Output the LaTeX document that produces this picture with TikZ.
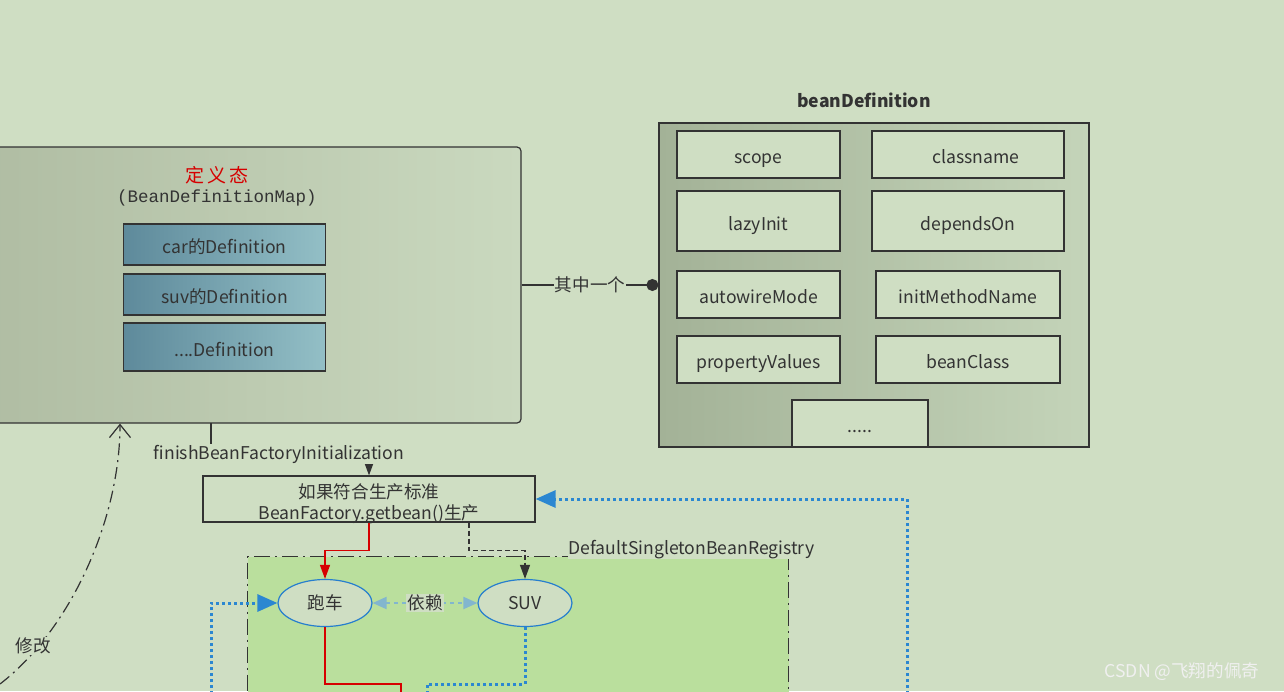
\documentclass[tikz,border=0pt]{standalone}
\usepackage{fontspec}
\setmainfont{Noto Sans CJK SC}
\newfontfamily\mapfont{Liberation Mono}
\usetikzlibrary{arrows.meta}
\usetikzlibrary{shapes.geometric}
\definecolor{bg}{RGB}{207,222,195}
\definecolor{ink}{RGB}{51,51,51}
\definecolor{regreen}{RGB}{186,223,157}
\definecolor{flowblue}{RGB}{43,135,209}
\definecolor{depblue}{RGB}{130,182,206}
\definecolor{ringblue}{RGB}{38,126,206}
\definecolor{tagred}{RGB}{214,0,0}

\begin{document}
\begin{tikzpicture}[x=1pt,y=-1pt,font=\fontsize{17.6}{21}\selectfont,text=ink,line width=1.2pt,
	field/.style={draw=ink,fill=bg,minimum height=47pt,inner sep=0pt,text height=19pt,text depth=1pt},
	defrow/.style={draw=ink,left color={rgb,255:red,94;green,138;blue,155},right color={rgb,255:red,147;green,191;blue,198},minimum width=202pt,minimum height=41pt,inner sep=0pt,text height=19pt,text depth=1pt},
	bean/.style={ellipse,draw=ringblue,fill=bg,minimum width=94pt,minimum height=47pt,inner sep=0pt,text height=14pt,text depth=2pt},
	flow/.style={flowblue,line width=3pt,dash pattern=on 3pt off 3pt},
	redline/.style={tagred,line width=1.3pt},
	tip/.style={-{Triangle[length=14pt,width=10pt]}}]
	\clip (0,0) rectangle (1284,691);
	\fill[bg] (0,0) rectangle (1284,691);

	\node[draw=ink,rounded corners=4pt,left color={rgb,255:red,176;green,189;blue,163},right color={rgb,255:red,202;green,217;blue,191},minimum width=531pt,minimum height=276pt] (defmap) at (255.5,285) {};
	\node[text=tagred,font=\fontsize{19}{21}\selectfont] (deftitle) at (217,175) {定\,义\,态};
	\node[font=\mapfont\fontsize{17.5}{20}\selectfont] (mapname) at (217,198) {(BeanDefinitionMap)};
	\node[defrow] (cardef) at (224.5,244.5) {car的Definition};
	\node[defrow] (suvdef) at (224.5,294.5) {suv的Definition};
	\node[defrow,minimum height=48pt] (moredef) at (224.5,347) {....Definition};

	\node[draw=ink,left color={rgb,255:red,163;green,178;blue,151},right color={rgb,255:red,196;green,212;blue,185},minimum width=430pt,minimum height=324pt] (bd) at (874,285) {};
	\node[font=\fontsize{17.6}{21}\selectfont\bfseries] (bdtitle) at (864,100) {beanDefinition};
	\node[field,minimum width=163pt] (scope) at (758.5,154.5) {scope};
	\node[field,minimum width=192pt] (classname) at (968,154.5) {\hspace{16pt}classname};
	\node[field,minimum width=163pt,minimum height=60pt] (lazy) at (758.5,221) {lazyInit};
	\node[field,minimum width=192pt,minimum height=60pt] (depends) at (968,221) {dependsOn};
	\node[field,minimum width=163pt] (autowire) at (758.5,294.5) {autowireMode};
	\node[field,minimum width=184pt] (initname) at (968,294.5) {initMethodName};
	\node[field,minimum width=163pt] (props) at (758.5,359.5) {propertyValues};
	\node[field,minimum width=184pt] (beanclass) at (968,359.5) {beanClass};
	\node[field,minimum width=136pt] (etc) at (860,423.5) {.....};

	\draw[ink,-{Circle[length=12pt]}] (defmap.east) -- node[fill=bg,inner sep=1pt] (oneof) {其中一个} (bd.west);

	\node[draw=ink,fill=bg,minimum width=332pt,minimum height=46pt,inner sep=0pt] (getbean) at (369,499) {};
	\node[align=center,inner sep=0pt] (getbeantext) at ([yshift=-5pt]getbean.center) {如果符合生产标准\\BeanFactory.getbean()生产};
	\coordinate (defout) at (211,423);
	\node[inner sep=0pt,minimum height=28pt,minimum width=252pt] (fin) at (279,452) {};
	\draw[ink,tip] (defout) |- (fin.center) -| (getbean.north);
	\node[fill=bg,inner sep=1pt] at ([yshift=-2pt]fin.center) {finishBeanFactoryInitialization};

	\node[draw=ink,fill=regreen,dash pattern=on 16pt off 5pt on 2pt off 5pt,minimum width=541pt,minimum height=200pt,anchor=north west] (reg) at (247,556) {};
	\node[fill=bg,inner sep=1pt,anchor=south west] (regname) at (567,560) {DefaultSingletonBeanRegistry};

	\node[bean] (car) at (325,603) {跑车};
	\node[bean] (suv) at (525,603) {SUV};

	\draw[redline,-{Triangle[length=14pt,width=10pt]}] (getbean.south) -- ++(0,28) -| (car.north);
	\draw[ink,dash pattern=on 5pt off 3pt,tip] ([xshift=100pt]getbean.south) -- ++(0,28) -| (suv.north);
	\draw[depblue,line width=2pt,dash pattern=on 4pt off 4pt,{Triangle[length=14pt,width=12pt]}-{Triangle[length=14pt,width=12pt]}] (car) -- node[fill=bg,text=ink,inner sep=1pt] (dep) {依赖} (suv);

	\coordinate (loopin) at (211,700);
	\coordinate (backin) at (907,700);
	\coordinate (suvout) at (427,700);
	\coordinate (carout) at (401,700);
	\draw[flow,-{Triangle[length=20pt,width=17pt]}] (loopin) |- (car.west);
	\draw[flow,-{Triangle[length=20pt,width=17pt]}] (backin) |- (getbean.east);
	\draw[flow] (suv.south) -- ++(0,57) -| (suvout);
	\draw[redline] (car.south) -- ++(0,57) -| (carout);

	\coordinate (modin) at (0,684);
	\draw[ink,dash pattern=on 12pt off 5pt on 2pt off 5pt,-{Straight Barb[length=13pt,width=21pt]}] (modin) .. controls (70,630) and (120,520) .. (120,0 |- defmap.south);
	\node[fill=bg,inner sep=1pt] (modify) at (33,646) {修改};

	\node[text=white!88!gray] (mark) at (1182,672) {CSDN @飞翔的佩奇};
\end{tikzpicture}
\end{document}
